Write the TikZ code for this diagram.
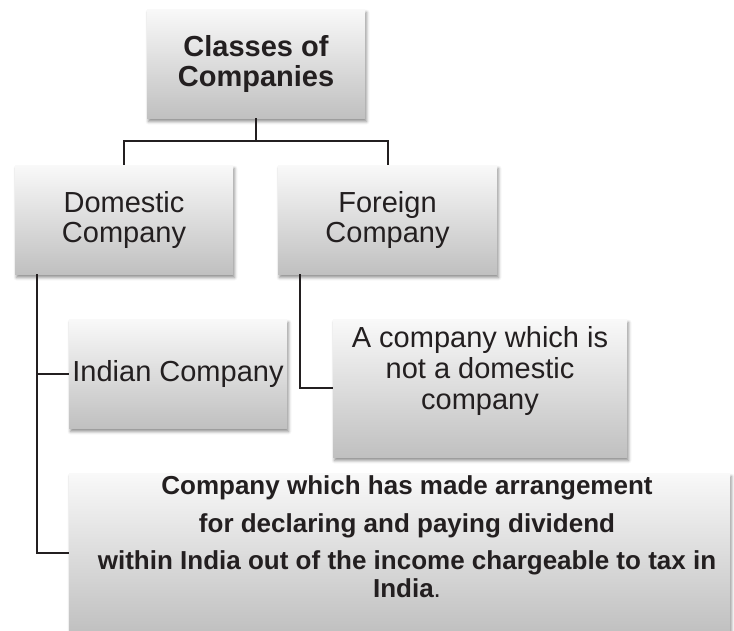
\documentclass[tikz,border=0pt]{standalone}
\usepackage{fontspec}
\setmainfont{Liberation Sans}
\usetikzlibrary{calc,shadows.blur}
\definecolor{txt}{RGB}{35,31,32}
\definecolor{boxtop}{RGB}{249,249,249}
\definecolor{boxbot}{RGB}{192,192,192}
\tikzset{
  box/.style={rectangle, inner sep=0pt, top color=boxtop, bottom color=boxbot, draw=none,
    blur shadow={shadow xshift=1.5pt, shadow yshift=-3.5pt, shadow blur radius=3pt, shadow opacity=45},
    text=txt, align=center},
  conn/.style={draw=txt, line width=2pt},
  txtnode/.style={text=txt, align=center, inner sep=0pt},
  big/.style={font=\fontsize{29}{30}\selectfont},
  bigb/.style={font=\fontsize{29}{30}\selectfont\bfseries},
  midl/.style={font=\fontsize{29}{31}\selectfont},
  botf/.style={font=\fontsize{26}{28}\selectfont\bfseries}
}
\begin{document}
\begin{tikzpicture}[x=1pt,y=-1pt]
\useasboundingbox (0,0) rectangle (734,630);
\node[box, bigb, minimum width=218pt, minimum height=109pt] (title) at (256,63.5) {Classes of\\Companies};
\node[box, big, minimum width=218pt, minimum height=109pt] (dom) at (124,219.5) {Domestic\\Company};
\node[box, big, minimum width=219pt, minimum height=109pt] (for) at (387.5,219.5) {Foreign\\Company};
\node[box, big, minimum width=218pt, minimum height=109pt] (ind) at (178,373.5) {Indian Company};
\node[box, minimum width=294pt, minimum height=138pt] (fsub) at (480,388) {};
\node[txtnode, midl] (fsubtxt) at (480,371) {A company which is\\not a domestic\\company};
\node[box, minimum width=661pt, minimum height=160pt] (bot) at (399.5,553) {};
\node[txtnode, botf] (bottxt) at (407,537) {Company which has made arrangement\\[9.5pt]for declaring and paying dividend\\[9.5pt]within India out of the income chargeable to tax in\\India\textmd{.}};
\draw[conn] (title.south) -- ++(0,23) -| (dom.north);
\draw[conn] (title.south) -- ++(0,23) -| (for.north);
\draw[conn] ($(dom.south west)+(22,0)$) |- (ind.west);
\draw[conn] ($(dom.south west)+(22,0)$) |- (bot.west);
\draw[conn] ($(for.south west)+(22,0)$) |- (fsub.west);
\end{tikzpicture}
\end{document}
